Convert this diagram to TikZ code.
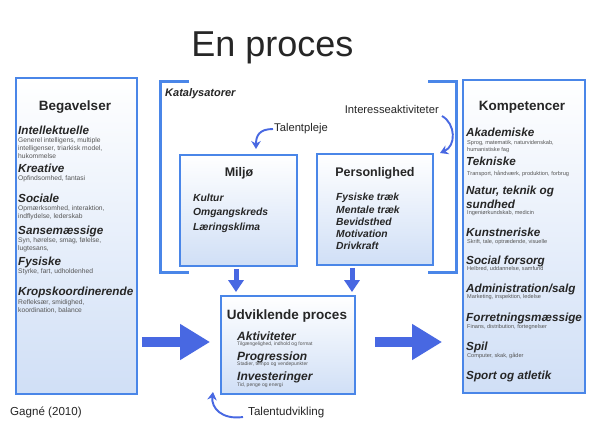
\documentclass[tikz,border=0pt]{standalone}
\usepackage{fontspec}
\setmainfont{Liberation Sans}
\usetikzlibrary{arrows.meta,calc}
\definecolor{bord}{RGB}{74,134,232}
\definecolor{fillb}{RGB}{208,223,246}
\definecolor{arr}{RGB}{72,104,226}
\definecolor{txt}{RGB}{38,38,38}
\definecolor{dtxt}{RGB}{85,85,85}
\begin{document}
\begin{tikzpicture}[x=1pt,y=-1pt,
  every node/.style={inner sep=0pt,text=txt},
  box/.style={draw=bord,line width=1.8pt,top color=white,bottom color=fillb,rectangle},
  head/.style={font=\bfseries\fontsize{13.5}{16}\selectfont},
  cat/.style={anchor=west,font=\bfseries\itshape\fontsize{11.7}{14}\selectfont,text height=8.5pt,text depth=2.4pt},
  desc/.style={anchor=west,font=\fontsize{6.7}{7}\selectfont,text=dtxt,text height=4.8pt,text depth=1.4pt},
  tiny/.style={anchor=west,font=\fontsize{5.6}{6}\selectfont,text=dtxt,text height=4pt,text depth=1.1pt},
  utiny/.style={anchor=west,font=\fontsize{5}{6}\selectfont,text=dtxt,text height=3.6pt,text depth=1pt},
  item/.style={anchor=west,font=\bfseries\itshape\fontsize{10.3}{12}\selectfont,text height=7.5pt,text depth=2pt},
  lab/.style={font=\fontsize{11.2}{13}\selectfont,text height=8pt,text depth=2.3pt},
  cur/.style={draw=arr,line width=1.9pt,-{Stealth[length=8pt,width=9.5pt]}},
  bigarr/.style={draw=arr,line width=10pt,-{Triangle[length=30pt,width=34pt]}},
  downarr/.style={draw=arr,line width=5pt,-{Triangle[length=12pt,width=15pt]}},
  brk/.style={draw=bord,line width=3pt}]
\useasboundingbox (0,0) rectangle (595,436);
\fill[white] (0,0) rectangle (595,436);

% title
\node[anchor=base,font=\fontsize{36}{40}\selectfont] (title) at (272.5,57) {En proces};

% boxes
\node[box,minimum width=121pt,minimum height=316pt] (beg) at (76.5,236) {};
\node[box,minimum width=122pt,minimum height=313pt] (komp) at (524,236.5) {};
\node[box,minimum width=117pt,minimum height=111pt] (miljo) at (238.5,210.5) {};
\node[box,minimum width=116pt,minimum height=111pt] (pers) at (375,209.5) {};
\node[box,minimum width=134pt,minimum height=98pt] (udv) at (288,345) {};

% katalysator bracket
\draw[brk] (189,82) -- (160,82) -- (160,272) -- (189,272);
\draw[brk] (428,82) -- (456,82) -- (456,272) -- (428,272);
\node[anchor=west,font=\bfseries\itshape\fontsize{11}{13}\selectfont] (kat) at (165,94) {Katalysatorer};

% Begavelser
\node[head] (begh) at (75,107) {Begavelser};
\node[cat] (b1) at (18,131) {Intellektuelle};
\node[desc] (b1a) at (18,140.5) {Generel intelligens, multiple};
\node[desc] (b1b) at (18,148.5) {intelligenser, triarkisk model,};
\node[desc] (b1c) at (18,156.5) {hukommelse};
\node[cat] (b2) at (18,169) {Kreative};
\node[desc] (b2a) at (18,178.5) {Opfindsomhed, fantasi};
\node[cat] (b3) at (18,199) {Sociale};
\node[desc] (b3a) at (18,209) {Opmærksomhed, interaktion,};
\node[desc] (b3b) at (18,217) {indflydelse, lederskab};
\node[cat] (b4) at (18,231) {Sansemæssige};
\node[desc] (b4a) at (18,241) {Syn, hørelse, smag, følelse,};
\node[desc] (b4b) at (18,248.5) {lugtesans,};
\node[cat] (b5) at (18,262) {Fysiske};
\node[desc] (b5a) at (18,272) {Styrke, fart, udholdenhed};
\node[cat] (b6) at (18,292) {Kropskoordinerende};
\node[desc] (b6a) at (18,302.5) {Refleksær, smidighed,};
\node[desc] (b6b) at (18,311) {koordination, balance};

% Kompetencer
\node[head] (komph) at (522,107) {Kompetencer};
\node[cat] (k1) at (466,133) {Akademiske};
\node[tiny] (k1a) at (467,143) {Sprog, matematik, naturvidenskab,};
\node[tiny] (k1b) at (467,150) {humanistiske fag};
\node[cat] (k2) at (466,162) {Tekniske};
\node[tiny] (k2a) at (467,174.5) {Transport, håndværk, produktion, forbrug};
\node[cat] (k3) at (466,191) {Natur, teknik og};
\node[cat] (k3b) at (466,205) {sundhed};
\node[tiny] (k3a) at (467,213.5) {Ingeniørkundskab, medicin};
\node[cat] (k4) at (466,233) {Kunstneriske};
\node[tiny] (k4a) at (467,242) {Skrift, tale, optrædende, visuelle};
\node[cat] (k5) at (466,261) {Social forsorg};
\node[tiny] (k5a) at (467,269.5) {Helbred, uddannelse, samfund};
\node[cat] (k6) at (466,289) {Administration/salg};
\node[tiny] (k6a) at (467,297.5) {Marketing, inspektion, ledelse};
\node[cat] (k7) at (466,318) {Forretningsmæssige};
\node[tiny] (k7a) at (467,327.5) {Finans, distribution, fortegnelser};
\node[cat] (k8) at (466,347) {Spil};
\node[tiny] (k8a) at (467,356.5) {Computer, skak, gåder};
\node[cat] (k9) at (466,376) {Sport og atletik};

% Miljø
\node[font=\bfseries\fontsize{12.5}{15}\selectfont] (mh) at (239,173) {Miljø};
\node[item] (m1) at (193,199) {Kultur};
\node[item] (m2) at (193,212.5) {Omgangskreds};
\node[item] (m3) at (193,228) {Læringsklima};

% Personlighed
\node[font=\bfseries\fontsize{12.5}{15}\selectfont] (ph) at (375,173) {Personlighed};
\node[item] (p1) at (336,198) {Fysiske træk};
\node[item] (p2) at (336,211) {Mentale træk};
\node[item] (p3) at (336,223) {Bevidsthed};
\node[item] (p4) at (336,235) {Motivation};
\node[item] (p5) at (336,247) {Drivkraft};

% Udviklende proces
\node[head] (uh) at (287,316) {Udviklende proces};
\node[cat,font=\bfseries\itshape\fontsize{12}{14}\selectfont] (u1) at (237,337) {Aktiviteter};
\node[utiny] (u1a) at (237,344.5) {Tilgængelighed, indhold og format};
\node[cat,font=\bfseries\itshape\fontsize{12}{14}\selectfont] (u2) at (237,357) {Progression};
\node[utiny] (u2a) at (237,364.5) {Stadier, tempo og vendepunkter};
\node[cat,font=\bfseries\itshape\fontsize{12}{14}\selectfont] (u3) at (237,377) {Investeringer};
\node[utiny] (u3a) at (237,385) {Tid, penge og energi};

% labels
\node[lab,anchor=west] (tp) at (274,129) {Talentpleje};
\node[lab,anchor=east] (ia) at (439,111) {Interesseaktiviteter};
\node[lab,anchor=west,font=\fontsize{11.6}{13}\selectfont] (tu) at (248,413) {Talentudvikling};
\node[lab,anchor=west,font=\fontsize{11.6}{13}\selectfont] (src) at (10,413) {Gagné (2010)};

% curved arrows
\coordinate (tpend) at (256,149);
\coordinate (iaend) at (440,153);
\coordinate (tuend) at (213,392);
\draw[cur] ($(tp.west)+(-1,0)$) .. controls (259,129) and (256,136) .. (tpend);
\draw[cur] ($(ia.east)+(3,5)$) .. controls (456,124) and (456,146) .. (iaend);
\draw[cur] ($(tu.west)+(-5,4)$) .. controls (222,420) and (211,408) .. (tuend);

% big arrows
\draw[bigarr] ($(beg.east |- udv.west)+(4,-3)$) -- ($(udv.west)+(-10,-3)$);
\draw[bigarr] ($(udv.east)+(19,-3)$) -- ($(komp.west |- udv.west)+(-20,-3)$);

% down arrows
\draw[downarr] ($(miljo.south)+(-2.5,2)$) -- ($(miljo.south |- udv.north)+(-2.5,-3)$);
\draw[downarr] ($(pers.south)+(-23,2)$) -- ($(pers.south |- udv.north)+(-23,-3)$);
\end{tikzpicture}
\end{document}
